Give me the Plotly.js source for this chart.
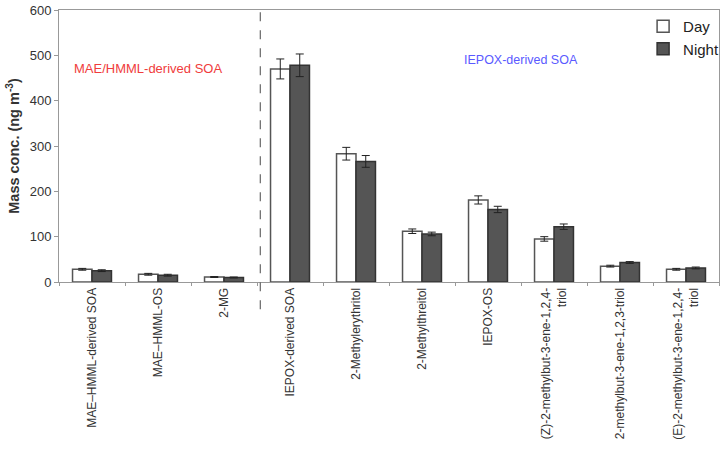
<!DOCTYPE html>
<html><head><meta charset="utf-8">
<script src="https://cdn.plot.ly/plotly-3.0.1.min.js"></script>
<style>html,body{margin:0;padding:0;background:#fff}#chart{width:727px;height:452px}</style>
</head><body><div id="chart"></div>
<script>
const categories = ["MAE–HMML-derived SOA","MAE–HMML-OS","2-MG","IEPOX-derived SOA","2-Methylerythritol","2-Methylthreitol","IEPOX-OS","(Z)-2-methylbut-3-ene-1,2,4-<br>triol","2-methylbut-3-ene-1,2,3-triol","(E)-2-methylbut-3-ene-1,2,4-<br>triol"];
const dayValues = [28, 17, 11, 470, 283, 112, 181, 95, 35, 28];
const dayErrors = [2, 2, 1, 22, 14, 5, 9, 5, 2, 2];
const nightValues = [25, 15, 10, 478, 266, 106, 160, 122, 43, 31];
const nightErrors = [2, 2, 1, 25, 13, 4, 7, 6, 2, 2];
const yTicks = [0, 100, 200, 300, 400, 500, 600];

const data = [
 {type:'bar', name:'Day', x:categories, y:dayValues,
  error_y:{type:'data', array:dayErrors, color:'#222', thickness:1, width:4},
  marker:{color:'#ffffff', line:{color:'#555', width:1.5}}},
 {type:'bar', name:'Night', x:categories, y:nightValues,
  error_y:{type:'data', array:nightErrors, color:'#222', thickness:1, width:4},
  marker:{color:'#555555', line:{color:'#333', width:1.5}}}
];
const layout = {
 width:727, height:452,
 margin:{l:59, r:3, t:10, b:170},
 paper_bgcolor:'#fff', plot_bgcolor:'#fff',
 font:{family:'Liberation Sans, Arial, sans-serif', color:'#333'},
 barmode:'group', bargap:0.41, bargroupgap:0,
 showlegend:true,
 legend:{x:0.885, y:1.0, xanchor:'left', yanchor:'top', font:{size:15, color:'#222'}, bgcolor:'rgba(0,0,0,0)', tracegroupgap:0, itemwidth:30},
 xaxis:{type:'category', tickangle:-90, tickfont:{size:12, color:'#333'},
  showline:true, linecolor:'#999', linewidth:1, mirror:true,
  ticks:'outside', tickson:'boundaries', ticklen:3, tickcolor:'#999', showgrid:false},
 yaxis:{range:[0,600], tickvals:yTicks, ticktext:yTicks.map(String),
  tickfont:{size:13, color:'#333'}, showgrid:false,
  showline:true, linecolor:'#999', linewidth:1, mirror:true, ticks:'outside', ticklen:4, tickcolor:'#999',
  title:{text:'<b>Mass conc. (ng m<sup>-3</sup>)</b>', font:{size:14.5, color:'#333'}, standoff:6}},
 shapes:[{type:'line', xref:'x', yref:'paper', x0:2.55, x1:2.55, y0:-0.1, y1:1.02,
  line:{color:'#666', width:1.2, dash:'dash'}}],
 annotations:[
  {text:'MAE/HMML-derived SOA', xref:'paper', yref:'y', x:0.019, y:472, xanchor:'left', showarrow:false, font:{size:13, color:'#f03c3c'}},
  {text:'IEPOX-derived SOA', xref:'paper', yref:'y', x:0.61, y:490, xanchor:'left', showarrow:false, font:{size:12.5, color:'#5a5aff'}}
 ]
};
Plotly.newPlot('chart', data, layout, {displayModeBar:false, staticPlot:true});
</script></body></html>
